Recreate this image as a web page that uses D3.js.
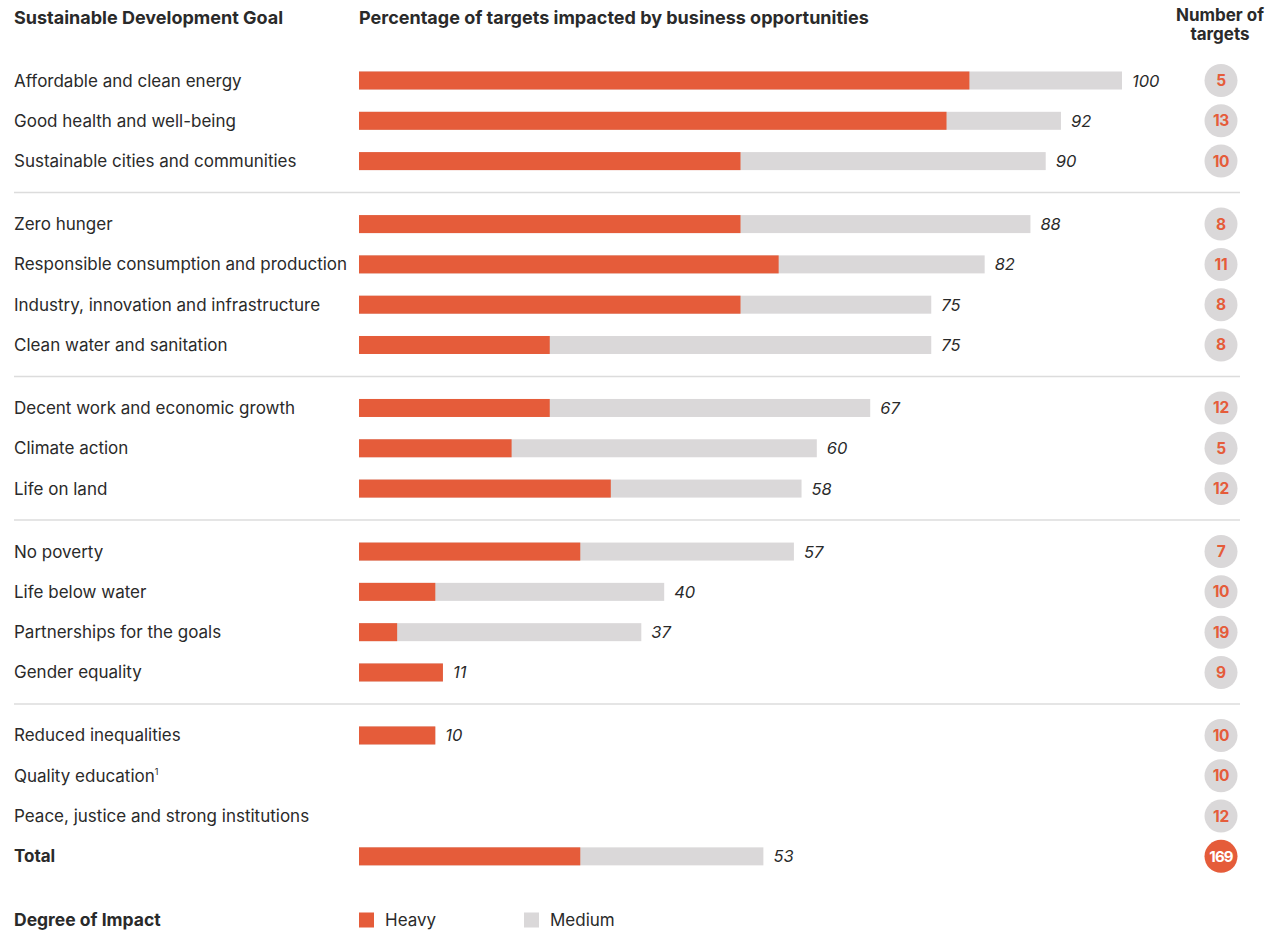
<!DOCTYPE html>
<html>
<head>
<meta charset="utf-8">
<script src="https://cdn.jsdelivr.net/npm/d3@7"></script>
<style>
  html, body { margin: 0; padding: 0; background: #fff; }
  svg { display: block; font-family: Inter, "Open Sans", sans-serif; }
</style>
</head>
<body>
<svg id="chart" width="1270" height="932"></svg>
<script>
// ---- data ----
const goals = [
  "Affordable and clean energy", "Good health and well-being", "Sustainable cities and communities",
  "Zero hunger", "Responsible consumption and production", "Industry, innovation and infrastructure", "Clean water and sanitation",
  "Decent work and economic growth", "Climate action", "Life on land",
  "No poverty", "Life below water", "Partnerships for the goals", "Gender equality",
  "Reduced inequalities", "Quality education", "Peace, justice and strong institutions", "Total"
];
const groupOf = [0,0,0, 1,1,1,1, 2,2,2, 3,3,3,3, 4,4,4,4];
const totalPct = [100, 92, 90, 88, 82, 75, 75, 67, 60, 58, 57, 40, 37, 11, 10, null, null, 53];
const heavyPct = [80, 77, 50, 50, 55, 50, 25, 25, 20, 33, 29, 10, 5, 11, 10, null, null, 29];
const numTargets = [5, 13, 10, 8, 11, 8, 8, 12, 5, 12, 7, 10, 19, 9, 10, 10, 12, 169];
const superscripts = {"Quality education": "1"};
const headers = ["Sustainable Development Goal", "Percentage of targets impacted by business opportunities", ["Number of", "targets"]];
const legendTitle = "Degree of Impact";
const legendItems = ["Heavy", "Medium"];

// ---- styles ----
const ORANGE = "#e55c3a";
const GREY = "#dad8d9";
const TEXT = "#2a2a2a";

const svg = d3.select("#chart");

const gapRatio = 0.563;
const slot = (i) => i + groupOf[i] * gapRatio;
const y = d3.scaleLinear().domain([0, 1]).range([80.5, 120.8]);
const x = d3.scaleLinear().domain([0, 100]).range([359, 1122]);
const barH = 18;
const circleX = 1221;

// headers
svg.append("text").attr("x", 14).attr("y", 24).attr("font-weight", 700).attr("font-size", 18)
  .attr("fill", TEXT).text(headers[0]);
svg.append("text").attr("x", 359).attr("y", 24).attr("font-weight", 700).attr("font-size", 18)
  .attr("fill", TEXT).text(headers[1]);
headers[2].forEach((t, k) => {
  svg.append("text").attr("text-anchor", "middle").attr("font-weight", 700).attr("font-size", 17)
    .attr("fill", TEXT).attr("x", circleX - 1).attr("y", 21 + k * 19).text(t);
});

// separators
const groups = d3.range(d3.max(groupOf) + 1);
groups.slice(1).forEach(g => {
  const first = groupOf.indexOf(g);
  const yy = (y(slot(first - 1)) + y(slot(first))) / 2;
  svg.append("line").attr("x1", 14).attr("x2", 1240).attr("y1", yy).attr("y2", yy)
    .attr("stroke", "#dcdcdc").attr("stroke-width", 1.5);
});

const rows = svg.selectAll("g.row").data(goals).join("g").attr("class", "row")
  .attr("transform", (d, i) => `translate(0,${y(slot(i))})`);

rows.each(function(d, i) {
  const g = d3.select(this);
  const isTotal = d === "Total";
  const t = g.append("text").attr("x", 14).attr("y", 6).attr("font-size", 17)
    .attr("font-weight", isTotal ? 700 : 400).attr("fill", TEXT).text(d);
  if (superscripts[d]) {
    t.append("tspan").attr("font-size", 9).attr("dy", -7).text(superscripts[d]);
  }
  if (totalPct[i] != null) {
    g.append("rect").attr("x", x(0)).attr("y", -barH / 2).attr("width", x(totalPct[i]) - x(0))
      .attr("height", barH).attr("fill", GREY);
    g.append("rect").attr("x", x(0)).attr("y", -barH / 2).attr("width", x(heavyPct[i]) - x(0))
      .attr("height", barH).attr("fill", ORANGE);
    g.append("text").attr("x", x(totalPct[i]) + 10).attr("y", 6).attr("font-size", 16.5)
      .attr("font-style", "italic").attr("fill", TEXT).text(totalPct[i]);
  }
  g.append("circle").attr("cx", circleX).attr("cy", 0).attr("r", 16.5)
    .attr("fill", isTotal ? ORANGE : GREY);
  g.append("text").attr("x", circleX).attr("y", 5.5).attr("text-anchor", "middle")
    .attr("font-size", isTotal ? 15 : 15.5).attr("font-weight", 700)
    .attr("letter-spacing", isTotal ? -0.8 : -0.3)
    .attr("fill", isTotal ? "#fff" : ORANGE).text(numTargets[i]);
});

// legend
const ly = 920;
svg.append("text").attr("x", 14).attr("y", ly + 6).attr("font-size", 17.5).attr("font-weight", 700)
  .attr("fill", TEXT).text(legendTitle);
const legendColors = [ORANGE, GREY];
const lx = [359, 524];
legendItems.forEach((name, k) => {
  svg.append("rect").attr("x", lx[k]).attr("y", ly - 7.5).attr("width", 15).attr("height", 15)
    .attr("fill", legendColors[k]);
  svg.append("text").attr("x", lx[k] + 26).attr("y", ly + 6).attr("font-size", 17)
    .attr("fill", TEXT).text(name);
});
</script>
</body>
</html>
